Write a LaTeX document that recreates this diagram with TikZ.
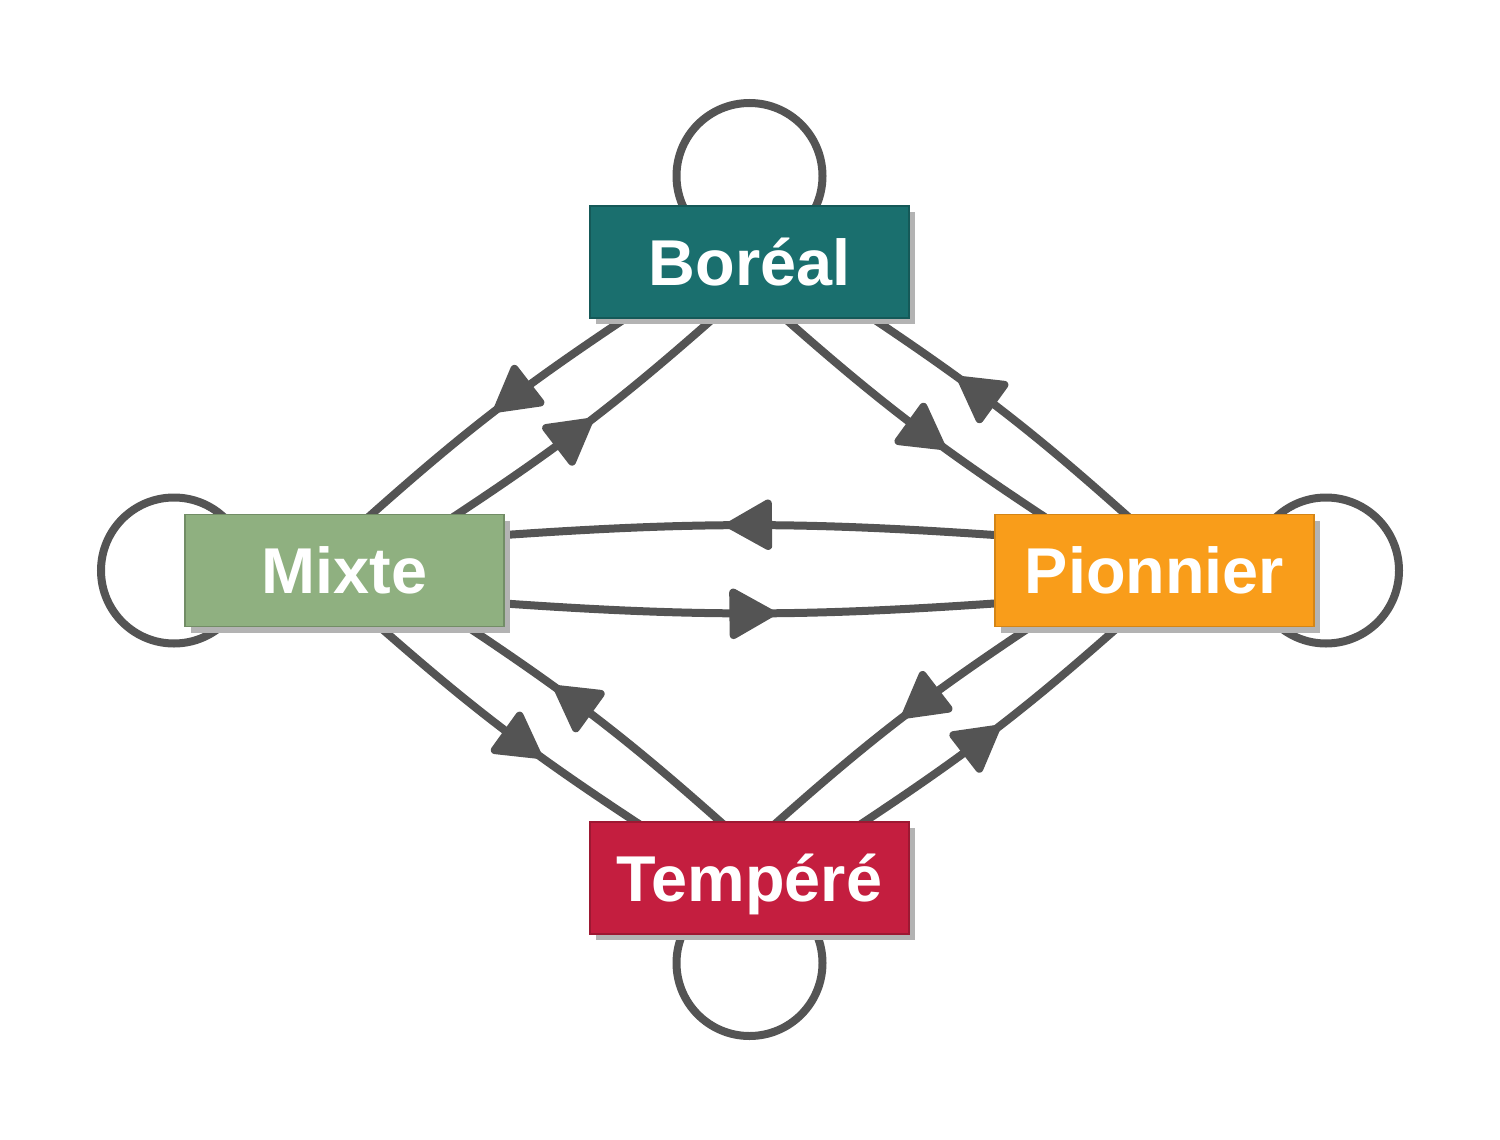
\documentclass[tikz,border=0pt]{standalone}
\usepackage{fontspec}
\setmainfont{Liberation Sans}
\usetikzlibrary{arrows.meta,decorations.markings,shadows,backgrounds}
\definecolor{lnc}{RGB}{84,84,84}
\definecolor{borealc}{RGB}{26,111,110}
\definecolor{mixtec}{RGB}{143,176,128}
\definecolor{pionc}{RGB}{249,157,26}
\definecolor{tempc}{RGB}{196,30,63}
\definecolor{shadc}{RGB}{179,179,179}
\tikzset{
  state/.style={rectangle, minimum width=159.5pt, minimum height=56pt, inner sep=0pt,
    text=white, font=\fontsize{32.4}{38}\selectfont\bfseries, text height=23pt, text depth=0pt,
    line width=0.6pt,
    drop shadow={shadow xshift=3pt, shadow yshift=-3pt, fill=shadc, opacity=1}},
  conn/.style={draw=lnc, line width=4pt, shorten <=-3pt, shorten >=-3pt},
  loopc/.style={draw=lnc, line width=4pt},
  arrowat/.style={postaction={decorate}, decoration={markings,
    mark=at position #1 with {\arrow{Triangle[round,length=25pt,width=27pt]}}}}
}
\begin{document}
\begin{tikzpicture}[x=0.5pt,y=-0.5pt]
\useasboundingbox (0,0) rectangle (1500,1140);
\node[state, fill=borealc, draw=borealc!80!black] (B) at (749.5,262) {Boréal};
\node[state, fill=mixtec, draw=mixtec!80!black] (M) at (344.5,570.5) {Mixte};
\node[state, fill=pionc, draw=pionc!85!black] (P) at (1154.5,570.5) {Pionnier};
\node[state, fill=tempc, draw=tempc!80!black] (T) at (749.5,878) {Tempéré};
\begin{scope}[on background layer]
  % self loops
  \draw[loopc] ([yshift=43pt]B.center) circle[radius=36.5pt];
  \draw[loopc] ([yshift=-42.5pt]T.center) circle[radius=36.5pt];
  \draw[loopc] ([xshift=-85.25pt]M.center) circle[radius=36.5pt];
  \draw[loopc] ([xshift=85.75pt]P.center) circle[radius=36.5pt];
  % Boreal <-> Mixte
  \draw[conn, arrowat=0.5] ([xshift=-62.25pt]B.south) to[bend right=4] ([xshift=13.75pt]M.north);
  \draw[conn, arrowat=0.51] ([xshift=56.75pt]M.north) to[bend right=4] ([xshift=-18.25pt]B.south);
  % Boreal <-> Pionnier
  \draw[conn, arrowat=0.64] ([xshift=17.75pt]B.south) to[bend right=4] ([xshift=-57.25pt]P.north);
  \draw[conn, arrowat=0.675] ([xshift=-14.75pt]P.north) to[bend right=4] ([xshift=61.75pt]B.south);
  % Mixte <-> Pionnier
  \draw[conn, arrowat=0.547] ([yshift=17.75pt]P.west) to[bend right=4] ([yshift=17.75pt]M.east);
  \draw[conn, arrowat=0.552] ([yshift=-16.5pt]M.east) to[bend right=4] ([yshift=-16.5pt]P.west);
  % Mixte <-> Tempere
  \draw[conn, arrowat=0.645] ([xshift=17.75pt]M.south) to[bend right=4] ([xshift=-57.25pt]T.north);
  \draw[conn, arrowat=0.67] ([xshift=-14.75pt]T.north) to[bend right=4] ([xshift=61.75pt]M.south);
  % Pionnier <-> Tempere
  \draw[conn, arrowat=0.49] ([xshift=-62.25pt]P.south) to[bend right=4] ([xshift=14.25pt]T.north);
  \draw[conn, arrowat=0.515] ([xshift=57.75pt]T.north) to[bend right=4] ([xshift=-18.25pt]P.south);
\end{scope}
\end{tikzpicture}
\end{document}
